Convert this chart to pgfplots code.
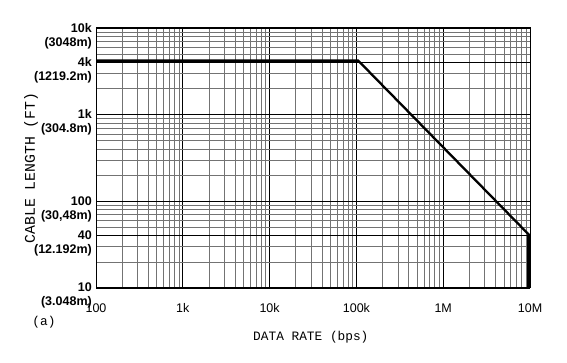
\documentclass[border=0pt]{standalone}
\usepackage{fontspec}
\setmainfont{Liberation Sans}
\newfontfamily\monofont{Liberation Mono}
\usepackage{pgfplots}
\pgfplotsset{compat=1.18}
\begin{document}
\begin{tikzpicture}
\path[use as bounding box] (-96pt,-75pt) rectangle (471pt,288pt);
\begin{axis}[
  at={(0,0)}, anchor=south west,
  scale only axis, width=434pt, height=260pt,
  xmode=log, ymode=log,
  xmin=100, xmax=10000000, ymin=10, ymax=10000,
  xtick={100,1000,10000,100000,1000000,10000000},
  xticklabels={100,1k,10k,100k,1M,10M},
  ytick={10,40,100,1000,4000,10000},
  yticklabels={{10\\(3.048m)},{40\\(12.192m)},{100\\(30,48m)},{1k\\(304.8m)},{4k\\(1219.2m)},{10k\\(3048m)}},
  minor xtick={200,300,400,500,600,700,800,900,2000,3000,4000,5000,6000,7000,8000,9000,20000,30000,40000,50000,60000,70000,80000,90000,200000,300000,400000,500000,600000,700000,800000,900000,2000000,3000000,4000000,5000000,6000000,7000000,8000000,9000000},
  minor ytick={20,30,50,60,70,80,90,200,300,400,500,600,700,800,900,2000,3000,5000,6000,7000,8000,9000},
  major tick length=0pt, minor tick length=0pt,
  grid=both,
  major grid style={black, line width=0.7pt},
  minor grid style={black!55, line width=0.6pt},
  axis line style={black, line width=1pt},
  xticklabel style={font=\fontsize{12.5}{14}\selectfont, anchor=base, yshift=-25pt, inner sep=0pt},
  yticklabel style={font=\fontsize{12.5}{14}\selectfont\bfseries, align=right, anchor=north east, inner sep=0pt, xshift=-4pt, yshift=5pt},
  xlabel={DATA RATE (bps)},
  ylabel={CABLE LENGTH (FT)},
  xlabel style={font=\monofont\fontsize{12.8}{14}\selectfont, at={(rel axis cs:0.495,0)}, anchor=center, yshift=-49pt},
  ylabel style={font=\monofont\fontsize{14.8}{16}\selectfont, at={(rel axis cs:0,0.4615)}, anchor=center, yshift=65pt},
  clip=true,
]
\addplot[black, line width=2.3pt, line join=miter] coordinates {(100,4200) (105000,4200) (10000000,40)};
\addplot[black, line width=3.6pt] coordinates {(9700000,40) (9700000,10)};
\end{axis}
\node[font=\monofont\fontsize{12.8}{14}\selectfont, anchor=center] at (-52pt,-34pt) {(a)};
\end{tikzpicture}
\end{document}
